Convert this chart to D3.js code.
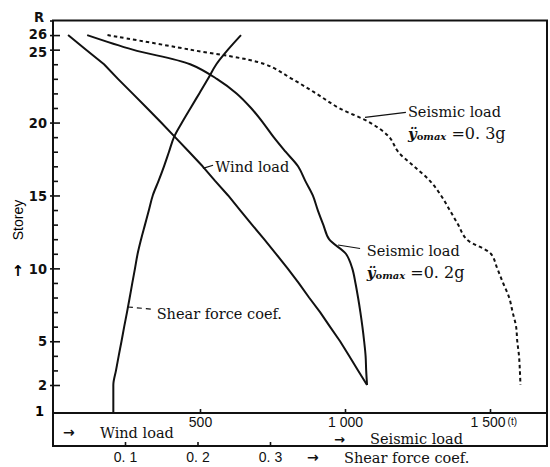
<!DOCTYPE html>
<html>
<head>
<meta charset="utf-8">
<script src="https://cdn.jsdelivr.net/npm/d3@7"></script>
<style>
  body { margin: 0; background: #fff; }
  svg { display: block; }
  .curve { fill: none; stroke: #111; stroke-width: 2; stroke-linejoin: round; }
  .frame { stroke: #111; stroke-width: 2; fill: none; }
  .lbl { font-family: "DejaVu Serif", "Liberation Serif", serif; font-size: 14.5px; fill: #111; }
  .arrow { font-family: "DejaVu Sans", sans-serif; font-size: 14px; font-weight: bold; fill: #111; }
</style>
</head>
<body>
<svg class="chart" width="550" height="467"></svg>
<script>
// storeys (2..26), loads in t
const storeys = [26, 25, 24, 23, 22, 21, 20, 19, 18, 17, 16, 15, 14, 13, 12, 11, 10, 9, 8, 7, 6, 5, 4, 3, 2];
const windLoad = [45, 107, 169, 217, 267, 317, 366, 414, 462, 509, 552, 597, 638, 679, 721, 762, 802, 840, 876, 914, 948, 983, 1014, 1045, 1076];
const seismic02 = [111, 268, 466, 558, 626, 676, 717, 754, 795, 838, 863, 889, 906, 925, 945, 1003, 1025, 1036, 1045, 1053, 1060, 1066, 1071, 1073, 1076];
const seismic03 = [181, 466, 724, 817, 900, 979, 1086, 1153, 1183, 1238, 1293, 1331, 1361, 1390, 1419, 1503, 1525, 1545, 1566, 1578, 1590, 1594, 1600, 1603, 1605];

const shearStoreys = [26, 25, 24, 23, 22, 21, 20, 19, 18, 17, 16, 15, 14, 13, 12, 11, 10, 9, 8, 7, 6, 5, 4, 3, 2, 1];
const shearCoef = [0.260, 0.242, 0.226, 0.2145, 0.2025, 0.1905, 0.1786, 0.1676, 0.1607, 0.1538, 0.1463, 0.1383, 0.133, 0.1276, 0.1222, 0.1174, 0.1138, 0.1101, 0.1065, 0.1028, 0.0989, 0.0952, 0.0913, 0.0876, 0.0839, 0.0839];

const storeyLabels = { 1: "1", 2: "2", 5: "5", 10: "10", 15: "15", 20: "20", 25: "25", 26: "26", 27: "R" };
const loadTicks = [500, 1000, 1500];
const loadTickLabels = ["500", "1 000", "1 500"];
const coefTicks = [0.1, 0.2, 0.3];
const coefTickLabels = ["0. 1", "0. 2", "0. 3"];

const left = 53, right = 547, boxBottom = 446;
const tickFont = "'Liberation Sans Narrow', 'DejaVu Sans Condensed', sans-serif";

const svg = d3.select("svg.chart");

const y = d3.scaleLinear().domain([1, 2, 27]).range([413, 385, 20.5]);
const xLoad = d3.scaleLinear().domain([0, 1500]).range([55, 490]);
const xCoef = d3.scaleLinear().domain([0, 0.3]).range([52.5, 270]);

// storey axis
const yAxis = svg.append("g")
  .attr("transform", "translate(" + left + ",0)")
  .call(d3.axisLeft(y)
    .tickValues(d3.range(2, 28))
    .tickSizeInner(-5)
    .tickSizeOuter(0)
    .tickPadding(6)
    .tickFormat(d => storeyLabels[d] || ""));
yAxis.select(".domain").remove();
yAxis.selectAll(".tick line").attr("stroke", "#111").attr("stroke-width", 1.6)
  .attr("x1", d => storeyLabels[d] ? -3 : 0)
  .attr("x2", d => d === 27 ? 0 : (storeyLabels[d] ? 7 : 5));
yAxis.selectAll(".tick text")
  .attr("fill", "#111")
  .style("font-family", tickFont)
  .style("font-weight", "bold")
  .style("font-size", "14.5px");
yAxis.selectAll(".tick").filter(d => d === 27).select("text").attr("x", -9).attr("dy", "0.05em");
yAxis.selectAll(".tick").filter(d => d === 26).select("text").attr("dy", "0.22em");
yAxis.selectAll(".tick").filter(d => d === 25).select("text").attr("dy", "0.45em");

// storey 1 label sits at the base line
svg.append("text")
  .attr("x", left - 9).attr("y", y(1)).attr("dy", "0.2em")
  .attr("text-anchor", "end")
  .style("font-family", tickFont)
  .style("font-weight", "bold").style("font-size", "14.5px")
  .text(storeyLabels[1]);

// frame
svg.append("rect").attr("class", "frame")
  .attr("x", left).attr("y", y(27))
  .attr("width", right - left).attr("height", boxBottom - y(27));
svg.append("line").attr("class", "frame")
  .attr("x1", left).attr("x2", right).attr("y1", y(1)).attr("y2", y(1));

// load axis on storey 1 line
const loadAxis = svg.append("g")
  .attr("transform", "translate(0," + y(1) + ")")
  .call(d3.axisBottom(xLoad).tickValues(loadTicks).tickSizeInner(-4).tickSizeOuter(0).tickPadding(4)
    .tickFormat((d, i) => loadTickLabels[i]));
loadAxis.select(".domain").remove();
loadAxis.selectAll(".tick line").attr("stroke", "#111").attr("stroke-width", 1.6);
loadAxis.selectAll(".tick text").attr("fill", "#111")
  .style("font-size", "14px").style("font-family", "'Liberation Sans', sans-serif");
loadAxis.selectAll(".tick").filter(d => d === 1500).select("text")
  .attr("text-anchor", "start").attr("x", -20)
  .append("tspan").attr("dx", 2).attr("dy", -2).style("font-size", "10px").text("(t)");

// shear coefficient axis on box bottom
const coefAxis = svg.append("g")
  .attr("transform", "translate(0," + boxBottom + ")")
  .call(d3.axisBottom(xCoef).tickValues(coefTicks).tickSizeInner(-4).tickSizeOuter(0).tickPadding(6)
    .tickFormat((d, i) => coefTickLabels[i]));
coefAxis.select(".domain").remove();
coefAxis.selectAll(".tick line").attr("stroke", "#111").attr("stroke-width", 1.6);
coefAxis.selectAll(".tick text").attr("fill", "#111")
  .style("font-size", "14px").style("font-family", "'Liberation Sans', sans-serif");

// curves
const loadLine = d3.line()
  .x(d => xLoad(d[1]))
  .y(d => y(d[0]));

svg.append("path").attr("class", "curve")
  .attr("d", loadLine(d3.zip(storeys, windLoad)));
svg.append("path").attr("class", "curve")
  .attr("d", loadLine.curve(d3.curveCatmullRom.alpha(0.5))(d3.zip(storeys, seismic02)));
svg.append("path").attr("class", "curve")
  .attr("stroke-dasharray", "3.5,3")
  .attr("d", loadLine.curve(d3.curveCatmullRom.alpha(0.5))(d3.zip(storeys, seismic03)));

const coefLine = d3.line()
  .x(d => xCoef(d[1]))
  .y(d => y(d[0]))
  .curve(d3.curveMonotoneY);
svg.append("path").attr("class", "curve")
  .attr("d", coefLine(d3.zip(shearStoreys, shearCoef)));

// annotations
function leader(x1, y1, x2, y2, dash) {
  svg.append("line")
    .attr("x1", x1).attr("y1", y1).attr("x2", x2).attr("y2", y2)
    .attr("stroke", "#111").attr("stroke-width", 1.2)
    .attr("stroke-dasharray", dash || null);
}

function accel(xp, yp, val) {
  const t = svg.append("text").attr("class", "lbl").attr("x", xp).attr("y", yp);
  t.append("tspan").style("font-style", "italic").style("font-weight", "bold").style("font-size", "15px").text("ÿ");
  t.append("tspan").attr("dy", 1).style("font-weight", "bold").style("font-size", "10px").text("o");
  t.append("tspan").style("font-style", "italic").style("font-weight", "bold").style("font-size", "10px").text("max");
  t.append("tspan").attr("dy", -1).style("font-size", "16px").text(" =0. " + val);
}

// seismic 0.3g
leader(xLoad(1069), y(20.36), xLoad(1210), y(20.7));
svg.append("text").attr("class", "lbl").attr("x", xLoad(1217)).attr("y", y(20.37)).text("Seismic load");
accel(xLoad(1217), y(20.37) + 22, "3g");

// seismic 0.2g
leader(xLoad(976), y(11.6), xLoad(1052), y(11.36));
svg.append("text").attr("class", "lbl").attr("x", xLoad(1075)).attr("y", y(10.85)).text("Seismic load");
accel(xLoad(1075), y(10.85) + 22, "2g");

// wind
leader(xLoad(510), y(16.86), xLoad(545), y(17.07));
svg.append("text").attr("class", "lbl").attr("x", xLoad(553)).attr("y", y(16.6)).text("Wind load");

// shear coef
leader(xCoef(0.104), y(7.35), xCoef(0.137), y(7.2), "5,4");
svg.append("text").attr("class", "lbl").attr("x", xCoef(0.1437)).attr("y", y(6.55)).text("Shear force coef.");

// axis titles
svg.append("text").attr("class", "arrow").attr("x", 63).attr("y", 437).text("→");
svg.append("text").attr("class", "lbl").attr("x", 100).attr("y", 438).text("Wind load");
svg.append("text").attr("class", "arrow").attr("x", 334).attr("y", 444).style("font-size", "13px").text("→");
svg.append("text").attr("class", "lbl").attr("x", 370).attr("y", 444).text("Seismic load");
svg.append("text").attr("class", "arrow").attr("x", 307).attr("y", 462).text("→");
svg.append("text").attr("class", "lbl").attr("x", 344).attr("y", 463).text("Shear force coef.");

svg.append("text")
  .attr("transform", "translate(23,220) rotate(-90)")
  .attr("text-anchor", "middle")
  .style("font-family", "'Liberation Sans', 'DejaVu Sans', sans-serif")
  .style("font-size", "14px")
  .text("Storey");
svg.append("text")
  .attr("x", 18).attr("y", 276)
  .attr("text-anchor", "middle")
  .style("font-family", "'DejaVu Sans', sans-serif")
  .style("font-size", "15px").style("font-weight", "bold")
  .text("↑");
</script>
</body>
</html>
